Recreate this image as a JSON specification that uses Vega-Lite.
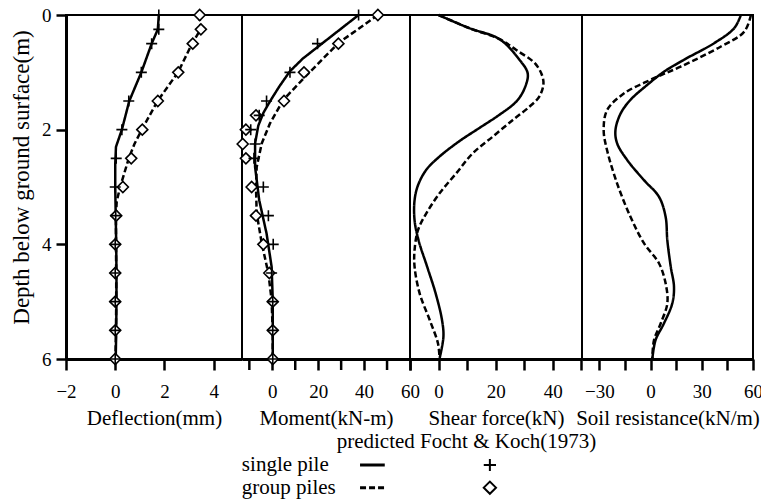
{
  "$schema": "https://vega.github.io/schema/vega-lite/v6.json",
  "padding": {"left": 9, "top": 5, "right": 0, "bottom": 0},
  "spacing": 2,
  "config": {
    "font": "Liberation Serif",
    "view": {"stroke": "black", "strokeWidth": 2},
    "axis": {
      "domainColor": "black", "domainWidth": 3,
      "tickColor": "black", "tickWidth": 2.5, "tickSize": 11,
      "labelFontSize": 19, "labelColor": "black", "labelPadding": 12,
      "labelFlush": false, "labelOverlap": false, "labelBound": false,
      "titleFontSize": 21, "titleFontWeight": "normal", "titleColor": "black", "titlePadding": 6,
      "grid": false
    }
  },
  "datasets": {
    "curveData": [
      {"panel": "defl", "case": "single pile", "depth": 0, "value": 1.77},
      {"panel": "defl", "case": "single pile", "depth": 0.25, "value": 1.73},
      {"panel": "defl", "case": "single pile", "depth": 0.5, "value": 1.48},
      {"panel": "defl", "case": "single pile", "depth": 1.0, "value": 1.06},
      {"panel": "defl", "case": "single pile", "depth": 1.5, "value": 0.57},
      {"panel": "defl", "case": "single pile", "depth": 2.0, "value": 0.27},
      {"panel": "defl", "case": "single pile", "depth": 2.3, "value": 0.03},
      {"panel": "defl", "case": "single pile", "depth": 2.6, "value": 0.0},
      {"panel": "defl", "case": "single pile", "depth": 3.0, "value": 0.0},
      {"panel": "defl", "case": "single pile", "depth": 3.5, "value": 0.02},
      {"panel": "defl", "case": "single pile", "depth": 4.0, "value": 0.04},
      {"panel": "defl", "case": "single pile", "depth": 4.5, "value": 0.05},
      {"panel": "defl", "case": "single pile", "depth": 5.0, "value": 0.05},
      {"panel": "defl", "case": "single pile", "depth": 5.5, "value": 0.04},
      {"panel": "defl", "case": "single pile", "depth": 6.0, "value": 0.02},
      {"panel": "defl", "case": "group piles", "depth": 0, "value": 3.42},
      {"panel": "defl", "case": "group piles", "depth": 0.25, "value": 3.47},
      {"panel": "defl", "case": "group piles", "depth": 0.5, "value": 3.12},
      {"panel": "defl", "case": "group piles", "depth": 1.0, "value": 2.55},
      {"panel": "defl", "case": "group piles", "depth": 1.5, "value": 1.72},
      {"panel": "defl", "case": "group piles", "depth": 2.0, "value": 1.08},
      {"panel": "defl", "case": "group piles", "depth": 2.25, "value": 0.78},
      {"panel": "defl", "case": "group piles", "depth": 2.5, "value": 0.55},
      {"panel": "defl", "case": "group piles", "depth": 3.0, "value": 0.2},
      {"panel": "defl", "case": "group piles", "depth": 3.25, "value": 0.06},
      {"panel": "defl", "case": "group piles", "depth": 3.5, "value": 0.03},
      {"panel": "defl", "case": "group piles", "depth": 4.0, "value": 0.03},
      {"panel": "defl", "case": "group piles", "depth": 4.5, "value": 0.04},
      {"panel": "defl", "case": "group piles", "depth": 5.0, "value": 0.04},
      {"panel": "defl", "case": "group piles", "depth": 5.5, "value": 0.03},
      {"panel": "defl", "case": "group piles", "depth": 6.0, "value": 0.01},

      {"panel": "moment", "case": "single pile", "depth": 0, "value": 37.6},
      {"panel": "moment", "case": "single pile", "depth": 0.76, "value": 13.3},
      {"panel": "moment", "case": "single pile", "depth": 0.98, "value": 7.7},
      {"panel": "moment", "case": "single pile", "depth": 1.25, "value": 3.0},
      {"panel": "moment", "case": "single pile", "depth": 1.48, "value": -0.6},
      {"panel": "moment", "case": "single pile", "depth": 1.7, "value": -3.8},
      {"panel": "moment", "case": "single pile", "depth": 1.93, "value": -6.1},
      {"panel": "moment", "case": "single pile", "depth": 2.24, "value": -7.5},
      {"panel": "moment", "case": "single pile", "depth": 2.65, "value": -7.5},
      {"panel": "moment", "case": "single pile", "depth": 3.23, "value": -5.7},
      {"panel": "moment", "case": "single pile", "depth": 3.81, "value": -2.5},
      {"panel": "moment", "case": "single pile", "depth": 4.39, "value": -0.3},
      {"panel": "moment", "case": "single pile", "depth": 4.97, "value": 0.2},
      {"panel": "moment", "case": "single pile", "depth": 6.0, "value": 0.2},
      {"panel": "moment", "case": "group piles", "depth": 0, "value": 46.0},
      {"panel": "moment", "case": "group piles", "depth": 0.49, "value": 28.8},
      {"panel": "moment", "case": "group piles", "depth": 1.05, "value": 15.0},
      {"panel": "moment", "case": "group piles", "depth": 1.48, "value": 4.8},
      {"panel": "moment", "case": "group piles", "depth": 1.89, "value": -1.0},
      {"panel": "moment", "case": "group piles", "depth": 2.24, "value": -4.6},
      {"panel": "moment", "case": "group piles", "depth": 2.65, "value": -6.8},
      {"panel": "moment", "case": "group piles", "depth": 3.0, "value": -7.1},
      {"panel": "moment", "case": "group piles", "depth": 3.46, "value": -6.8},
      {"panel": "moment", "case": "group piles", "depth": 3.98, "value": -4.6},
      {"panel": "moment", "case": "group piles", "depth": 4.51, "value": -1.7},
      {"panel": "moment", "case": "group piles", "depth": 4.97, "value": -0.3},
      {"panel": "moment", "case": "group piles", "depth": 5.55, "value": 0.2},
      {"panel": "moment", "case": "group piles", "depth": 6.0, "value": 0.2},

      {"panel": "shear", "case": "single pile", "depth": 0, "value": 0},
      {"panel": "shear", "case": "single pile", "depth": 0.23, "value": 10.8},
      {"panel": "shear", "case": "single pile", "depth": 0.42, "value": 21.3},
      {"panel": "shear", "case": "single pile", "depth": 0.78, "value": 28.3},
      {"panel": "shear", "case": "single pile", "depth": 1.02, "value": 31.2},
      {"panel": "shear", "case": "single pile", "depth": 1.28, "value": 30.1},
      {"panel": "shear", "case": "single pile", "depth": 1.51, "value": 27.2},
      {"panel": "shear", "case": "single pile", "depth": 1.74, "value": 21.3},
      {"panel": "shear", "case": "single pile", "depth": 1.97, "value": 14.3},
      {"panel": "shear", "case": "single pile", "depth": 2.2, "value": 7.3},
      {"panel": "shear", "case": "single pile", "depth": 2.47, "value": 0.3},
      {"panel": "shear", "case": "single pile", "depth": 2.7, "value": -4.3},
      {"panel": "shear", "case": "single pile", "depth": 2.97, "value": -7.2},
      {"panel": "shear", "case": "single pile", "depth": 3.23, "value": -8.4},
      {"panel": "shear", "case": "single pile", "depth": 3.58, "value": -8.4},
      {"panel": "shear", "case": "single pile", "depth": 3.93, "value": -7.0},
      {"panel": "shear", "case": "single pile", "depth": 4.39, "value": -4.0},
      {"panel": "shear", "case": "single pile", "depth": 4.86, "value": -1.0},
      {"panel": "shear", "case": "single pile", "depth": 5.32, "value": 1.2},
      {"panel": "shear", "case": "single pile", "depth": 5.61, "value": 1.7},
      {"panel": "shear", "case": "single pile", "depth": 6.0, "value": 0.3},
      {"panel": "shear", "case": "group piles", "depth": 0, "value": 0},
      {"panel": "shear", "case": "group piles", "depth": 0.23, "value": 10.8},
      {"panel": "shear", "case": "group piles", "depth": 0.42, "value": 21.3},
      {"panel": "shear", "case": "group piles", "depth": 0.61, "value": 27.2},
      {"panel": "shear", "case": "group piles", "depth": 0.87, "value": 34.2},
      {"panel": "shear", "case": "group piles", "depth": 1.16, "value": 36.7},
      {"panel": "shear", "case": "group piles", "depth": 1.42, "value": 35.3},
      {"panel": "shear", "case": "group piles", "depth": 1.6, "value": 31.8},
      {"panel": "shear", "case": "group piles", "depth": 1.83, "value": 26.0},
      {"panel": "shear", "case": "group piles", "depth": 2.12, "value": 19.0},
      {"panel": "shear", "case": "group piles", "depth": 2.41, "value": 12.0},
      {"panel": "shear", "case": "group piles", "depth": 2.76, "value": 6.2},
      {"panel": "shear", "case": "group piles", "depth": 3.11, "value": 0.35},
      {"panel": "shear", "case": "group piles", "depth": 3.46, "value": -4.3},
      {"panel": "shear", "case": "group piles", "depth": 3.75, "value": -7.2},
      {"panel": "shear", "case": "group piles", "depth": 4.1, "value": -8.4},
      {"panel": "shear", "case": "group piles", "depth": 4.39, "value": -8.4},
      {"panel": "shear", "case": "group piles", "depth": 4.86, "value": -6.6},
      {"panel": "shear", "case": "group piles", "depth": 5.32, "value": -3.1},
      {"panel": "shear", "case": "group piles", "depth": 5.73, "value": -0.2},
      {"panel": "shear", "case": "group piles", "depth": 6.0, "value": 0.35},

      {"panel": "soil", "case": "single pile", "depth": 0, "value": 52.9},
      {"panel": "soil", "case": "single pile", "depth": 0.23, "value": 49.0},
      {"panel": "soil", "case": "single pile", "depth": 0.49, "value": 37.3},
      {"panel": "soil", "case": "single pile", "depth": 0.78, "value": 19.6},
      {"panel": "soil", "case": "single pile", "depth": 0.99, "value": 7.8},
      {"panel": "soil", "case": "single pile", "depth": 1.22, "value": -2.0},
      {"panel": "soil", "case": "single pile", "depth": 1.48, "value": -11.8},
      {"panel": "soil", "case": "single pile", "depth": 1.72, "value": -17.6},
      {"panel": "soil", "case": "single pile", "depth": 2.01, "value": -20.6},
      {"panel": "soil", "case": "single pile", "depth": 2.24, "value": -19.6},
      {"panel": "soil", "case": "single pile", "depth": 2.53, "value": -13.7},
      {"panel": "soil", "case": "single pile", "depth": 2.88, "value": -3.9},
      {"panel": "soil", "case": "single pile", "depth": 3.17, "value": 4.9},
      {"panel": "soil", "case": "single pile", "depth": 3.52, "value": 8.8},
      {"panel": "soil", "case": "single pile", "depth": 3.93, "value": 9.8},
      {"panel": "soil", "case": "single pile", "depth": 4.39, "value": 11.8},
      {"panel": "soil", "case": "single pile", "depth": 4.74, "value": 13.7},
      {"panel": "soil", "case": "single pile", "depth": 5.03, "value": 12.7},
      {"panel": "soil", "case": "single pile", "depth": 5.38, "value": 7.8},
      {"panel": "soil", "case": "single pile", "depth": 5.67, "value": 2.9},
      {"panel": "soil", "case": "single pile", "depth": 6.0, "value": 1.0},
      {"panel": "soil", "case": "group piles", "depth": 0, "value": 58.8},
      {"panel": "soil", "case": "group piles", "depth": 0.29, "value": 54.9},
      {"panel": "soil", "case": "group piles", "depth": 0.55, "value": 41.2},
      {"panel": "soil", "case": "group piles", "depth": 0.9, "value": 17.6},
      {"panel": "soil", "case": "group piles", "depth": 1.13, "value": 0},
      {"panel": "soil", "case": "group piles", "depth": 1.37, "value": -15.7},
      {"panel": "soil", "case": "group piles", "depth": 1.66, "value": -25.5},
      {"panel": "soil", "case": "group piles", "depth": 2.01, "value": -27.5},
      {"panel": "soil", "case": "group piles", "depth": 2.36, "value": -25.5},
      {"panel": "soil", "case": "group piles", "depth": 2.94, "value": -19.6},
      {"panel": "soil", "case": "group piles", "depth": 3.52, "value": -11.8},
      {"panel": "soil", "case": "group piles", "depth": 3.98, "value": -3.9},
      {"panel": "soil", "case": "group piles", "depth": 4.33, "value": 4.9},
      {"panel": "soil", "case": "group piles", "depth": 4.68, "value": 8.8},
      {"panel": "soil", "case": "group piles", "depth": 5.03, "value": 9.8},
      {"panel": "soil", "case": "group piles", "depth": 5.38, "value": 5.9},
      {"panel": "soil", "case": "group piles", "depth": 5.67, "value": 2.0},
      {"panel": "soil", "case": "group piles", "depth": 6.0, "value": 1.0}
    ],
    "markerData": [
      {"panel": "defl", "case": "group piles", "depth": 0, "value": 3.43},
      {"panel": "defl", "case": "group piles", "depth": 0.25, "value": 3.48},
      {"panel": "defl", "case": "group piles", "depth": 0.5, "value": 3.15},
      {"panel": "defl", "case": "group piles", "depth": 1.0, "value": 2.56},
      {"panel": "defl", "case": "group piles", "depth": 1.5, "value": 1.73},
      {"panel": "defl", "case": "group piles", "depth": 2.0, "value": 1.1},
      {"panel": "defl", "case": "group piles", "depth": 2.5, "value": 0.65},
      {"panel": "defl", "case": "group piles", "depth": 3.0, "value": 0.31},
      {"panel": "defl", "case": "group piles", "depth": 3.5, "value": 0.04},
      {"panel": "defl", "case": "group piles", "depth": 4.0, "value": 0.0},
      {"panel": "defl", "case": "group piles", "depth": 4.5, "value": 0.0},
      {"panel": "defl", "case": "group piles", "depth": 5.0, "value": 0.0},
      {"panel": "defl", "case": "group piles", "depth": 5.5, "value": 0.0},
      {"panel": "defl", "case": "group piles", "depth": 6.0, "value": 0.0},
      {"panel": "defl", "case": "single pile", "depth": 0, "value": 1.77},
      {"panel": "defl", "case": "single pile", "depth": 0.25, "value": 1.77},
      {"panel": "defl", "case": "single pile", "depth": 0.5, "value": 1.48},
      {"panel": "defl", "case": "single pile", "depth": 1.0, "value": 1.06},
      {"panel": "defl", "case": "single pile", "depth": 1.5, "value": 0.55},
      {"panel": "defl", "case": "single pile", "depth": 2.0, "value": 0.27},
      {"panel": "defl", "case": "single pile", "depth": 2.5, "value": 0.04},
      {"panel": "defl", "case": "single pile", "depth": 3.0, "value": 0.0},
      {"panel": "defl", "case": "single pile", "depth": 3.5, "value": 0.02},
      {"panel": "defl", "case": "single pile", "depth": 4.0, "value": 0.0},
      {"panel": "defl", "case": "single pile", "depth": 4.5, "value": 0.0},
      {"panel": "defl", "case": "single pile", "depth": 5.0, "value": 0.0},
      {"panel": "defl", "case": "single pile", "depth": 5.5, "value": 0.0},
      {"panel": "defl", "case": "single pile", "depth": 6.0, "value": 0.0},

      {"panel": "moment", "case": "group piles", "depth": 0, "value": 46.0},
      {"panel": "moment", "case": "group piles", "depth": 0.5, "value": 28.8},
      {"panel": "moment", "case": "group piles", "depth": 1.0, "value": 13.8},
      {"panel": "moment", "case": "group piles", "depth": 1.5, "value": 5.1},
      {"panel": "moment", "case": "group piles", "depth": 1.75, "value": -7.1},
      {"panel": "moment", "case": "group piles", "depth": 2.0, "value": -11.5},
      {"panel": "moment", "case": "group piles", "depth": 2.25, "value": -12.9},
      {"panel": "moment", "case": "group piles", "depth": 2.5, "value": -11.5},
      {"panel": "moment", "case": "group piles", "depth": 3.0, "value": -9.0},
      {"panel": "moment", "case": "group piles", "depth": 3.5, "value": -7.1},
      {"panel": "moment", "case": "group piles", "depth": 4.0, "value": -3.9},
      {"panel": "moment", "case": "group piles", "depth": 4.5, "value": -1.3},
      {"panel": "moment", "case": "group piles", "depth": 5.0, "value": 0.2},
      {"panel": "moment", "case": "group piles", "depth": 5.5, "value": 0.2},
      {"panel": "moment", "case": "group piles", "depth": 6.0, "value": 0.2},
      {"panel": "moment", "case": "single pile", "depth": 0, "value": 37.6},
      {"panel": "moment", "case": "single pile", "depth": 0.5, "value": 19.7},
      {"panel": "moment", "case": "single pile", "depth": 1.0, "value": 7.7},
      {"panel": "moment", "case": "single pile", "depth": 1.5, "value": -2.5},
      {"panel": "moment", "case": "single pile", "depth": 1.75, "value": -5.7},
      {"panel": "moment", "case": "single pile", "depth": 2.0, "value": -9.4},
      {"panel": "moment", "case": "single pile", "depth": 2.25, "value": -7.5},
      {"panel": "moment", "case": "single pile", "depth": 2.5, "value": -8.0},
      {"panel": "moment", "case": "single pile", "depth": 3.0, "value": -3.9},
      {"panel": "moment", "case": "single pile", "depth": 3.5, "value": -1.7},
      {"panel": "moment", "case": "single pile", "depth": 4.0, "value": 0.4},
      {"panel": "moment", "case": "single pile", "depth": 4.5, "value": -0.3},
      {"panel": "moment", "case": "single pile", "depth": 5.0, "value": 0.2},
      {"panel": "moment", "case": "single pile", "depth": 5.5, "value": 0.2},
      {"panel": "moment", "case": "single pile", "depth": 6.0, "value": 0.2}
    ],
    "minorTicks": [
      {"panel": "moment", "depth": 6, "value": -10},
      {"panel": "moment", "depth": 6, "value": 10},
      {"panel": "moment", "depth": 6, "value": 30},
      {"panel": "moment", "depth": 6, "value": 50}
    ],
    "keyData": [
      {"kind": "text", "label": "predicted Focht & Koch(1973)", "col": 39.4, "row": 0},
      {"kind": "text", "label": "single pile", "col": 25.6, "row": 1},
      {"kind": "text", "label": "group piles", "col": 25.6, "row": 2},
      {"kind": "line", "case": "single pile", "col": 42.8, "col2": 46.4, "row": 1},
      {"kind": "line", "case": "group piles", "col": 42.8, "col2": 46.4, "row": 2},
      {"kind": "point", "case": "single pile", "col": 61.7, "row": 1},
      {"kind": "point", "case": "group piles", "col": 61.7, "row": 2}
    ]
  },
  "resolve": {"scale": {"x": "independent", "y": "independent"}},
  "vconcat": [
    {
      "spacing": 0,
      "bounds": "flush",
      "resolve": {"scale": {"x": "independent", "y": "independent"}},
      "hconcat": [
        {
          "width": 176, "height": 344,
          "layer": [
            {
              "data": {"name": "curveData"},
              "transform": [{"filter": "datum.panel === 'defl'"}],
              "mark": {"type": "line", "color": "black", "strokeWidth": 2.5, "interpolate": "linear"},
              "encoding": {
                "x": {"field": "value", "type": "quantitative", "scale": {"domain": [-2, 5.15], "nice": false, "zero": false},
                      "axis": {"values": [-2, -1, 0, 1, 2, 3, 4, 5], "labelOverlap": false, "labelFlush": false, "labelBound": false, "labelExpr": "datum.value % 2 === 0 ? datum.label : ''", "title": "Deflection(mm)"}},
                "y": {"field": "depth", "type": "quantitative", "scale": {"domain": [0, 6], "reverse": true, "nice": false, "zero": false},
                      "axis": {"values": [0, 2, 4, 6], "format": "d", "labelOverlap": false, "labelFlush": false, "title": "Depth below ground surface(m)", "titleFontSize": 23, "tickSize": 10, "labelPadding": 5, "titlePadding": 8, "titleY": 162}},
                "order": {"field": "depth", "type": "quantitative"},
                "strokeDash": {"field": "case", "type": "nominal", "scale": {"domain": ["single pile", "group piles"], "range": [[1, 0], [6, 3]]}, "legend": null}
              }
            },
            {
              "data": {"name": "markerData"},
              "transform": [{"filter": "datum.panel === 'defl'"}],
              "mark": {"type": "point", "filled": true, "fill": "white", "stroke": "black", "strokeWidth": 1.6, "opacity": 1, "size": 121},
              "encoding": {
                "x": {"field": "value", "type": "quantitative"},
                "y": {"field": "depth", "type": "quantitative"},
                "shape": {"field": "case", "type": "nominal", "scale": {"domain": ["single pile", "group piles"], "range": ["M-1,0H1M0,-1V1", "diamond"]}, "legend": null}
              }
            }
          ]
        },
        {
          "width": 168, "height": 344,
          "layer": [
            {
              "data": {"name": "curveData"},
              "transform": [{"filter": "datum.panel === 'moment'"}],
              "mark": {"type": "line", "color": "black", "strokeWidth": 2.5, "interpolate": "linear"},
              "encoding": {
                "x": {"field": "value", "type": "quantitative", "scale": {"domain": [-13.2, 60], "nice": false, "zero": false},
                      "axis": {"values": [0, 20, 40, 60], "format": "d", "labelOverlap": false, "labelFlush": false, "labelBound": false, "title": "Moment(kN-m)"}},
                "y": {"field": "depth", "type": "quantitative", "scale": {"domain": [0, 6], "reverse": true, "nice": false, "zero": false}, "axis": null},
                "order": {"field": "depth", "type": "quantitative"},
                "strokeDash": {"field": "case", "type": "nominal", "scale": {"domain": ["single pile", "group piles"], "range": [[1, 0], [6, 3]]}, "legend": null}
              }
            },
            {
              "data": {"name": "markerData"},
              "transform": [{"filter": "datum.panel === 'moment'"}],
              "mark": {"type": "point", "filled": true, "fill": "white", "stroke": "black", "strokeWidth": 1.6, "opacity": 1, "size": 121},
              "encoding": {
                "x": {"field": "value", "type": "quantitative"},
                "y": {"field": "depth", "type": "quantitative", "axis": null},
                "shape": {"field": "case", "type": "nominal", "scale": {"domain": ["single pile", "group piles"], "range": ["M-1,0H1M0,-1V1", "diamond"]}, "legend": null}
              }
            },
            {
              "data": {"name": "minorTicks"},
              "mark": {"type": "tick", "orient": "vertical", "color": "black", "opacity": 1, "thickness": 2.5, "size": 11, "yOffset": 5.5, "clip": false},
              "encoding": {
                "x": {"field": "value", "type": "quantitative"},
                "y": {"field": "depth", "type": "quantitative", "axis": null}
              }
            }
          ]
        },
        {
          "width": 172, "height": 344,
          "data": {"name": "curveData"},
          "transform": [{"filter": "datum.panel === 'shear'"}],
          "mark": {"type": "line", "color": "black", "strokeWidth": 2.5, "interpolate": "catmull-rom"},
          "encoding": {
            "x": {"field": "value", "type": "quantitative", "scale": {"domain": [-10, 50.2], "nice": false, "zero": false},
                  "axis": {"values": [-10, 0, 10, 20, 30, 40, 50], "labelOverlap": false, "labelExpr": "datum.value == 0 || datum.value == 20 || datum.value == 40 ? datum.label : ''", "title": "Shear force(kN)"}},
            "y": {"field": "depth", "type": "quantitative", "scale": {"domain": [0, 6], "reverse": true, "nice": false, "zero": false}, "axis": null},
            "order": {"field": "depth", "type": "quantitative"},
            "strokeDash": {"field": "case", "type": "nominal", "scale": {"domain": ["single pile", "group piles"], "range": [[1, 0], [6, 3]]}, "legend": null}
          }
        },
        {
          "width": 171, "height": 344,
          "data": {"name": "curveData"},
          "transform": [{"filter": "datum.panel === 'soil'"}],
          "mark": {"type": "line", "color": "black", "strokeWidth": 2.5, "interpolate": "catmull-rom"},
          "encoding": {
            "x": {"field": "value", "type": "quantitative", "scale": {"domain": [-40.2, 60], "nice": false, "zero": false},
                  "axis": {"values": [-30, -15, 0, 15, 30, 45, 60], "labelOverlap": false, "labelExpr": "datum.value % 30 === 0 ? datum.label : ''", "title": "Soil resistance(kN/m)"}},
            "y": {"field": "depth", "type": "quantitative", "scale": {"domain": [0, 6], "reverse": true, "nice": false, "zero": false}, "axis": null},
            "order": {"field": "depth", "type": "quantitative"},
            "strokeDash": {"field": "case", "type": "nominal", "scale": {"domain": ["single pile", "group piles"], "range": [[1, 0], [6, 3]]}, "legend": null}
          }
        }
      ]
    },
    {
      "width": 687, "height": 68,
      "view": {"stroke": null},
      "data": {"name": "keyData"},
      "layer": [
        {
          "transform": [{"filter": "datum.kind === 'text'"}],
          "mark": {"type": "text", "align": "left", "baseline": "middle", "fontSize": 21, "color": "black"},
          "encoding": {
            "x": {"field": "col", "type": "quantitative", "scale": {"domain": [0, 100], "nice": false}, "axis": null},
            "y": {"field": "row", "type": "quantitative", "scale": {"domain": [-0.5, 2.5], "reverse": true, "nice": false, "zero": false}, "axis": null},
            "text": {"field": "label"}
          }
        },
        {
          "transform": [{"filter": "datum.kind === 'line'"}],
          "mark": {"type": "rule", "color": "black", "strokeWidth": 3},
          "encoding": {
            "x": {"field": "col", "type": "quantitative"},
            "x2": {"field": "col2"},
            "y": {"field": "row", "type": "quantitative"},
            "strokeDash": {"field": "case", "type": "nominal", "scale": {"domain": ["single pile", "group piles"], "range": [[1, 0], [6, 3]]}, "legend": null}
          }
        },
        {
          "transform": [{"filter": "datum.kind === 'point'"}],
          "mark": {"type": "point", "filled": true, "fill": "white", "stroke": "black", "strokeWidth": 2, "opacity": 1, "size": 150},
          "encoding": {
            "x": {"field": "col", "type": "quantitative"},
            "y": {"field": "row", "type": "quantitative"},
            "shape": {"field": "case", "type": "nominal", "scale": {"domain": ["single pile", "group piles"], "range": ["M-1,0H1M0,-1V1", "diamond"]}, "legend": null}
          }
        }
      ]
    }
  ]
}
